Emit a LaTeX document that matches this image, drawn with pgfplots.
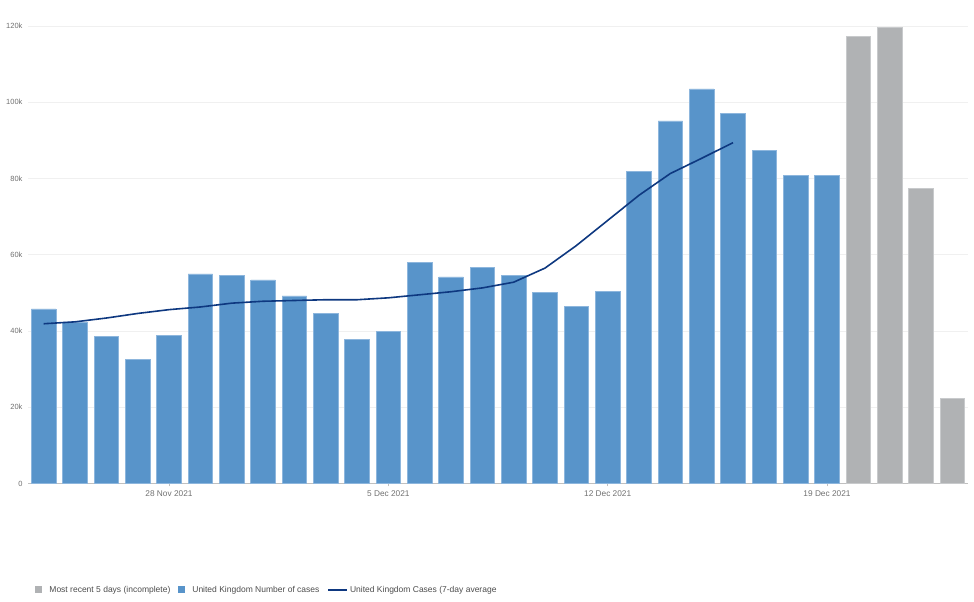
\documentclass[border=0pt]{standalone}
\usepackage{fontspec}
\setmainfont{Liberation Sans}
\usepackage{pgfplots}
\pgfplotsset{compat=1.18}
\definecolor{ukblue}{HTML}{5894CA}
\definecolor{ukblueedge}{HTML}{8DB6DD}
\definecolor{ukgrey}{HTML}{B0B2B4}
\definecolor{ukgreyedge}{HTML}{C8CACC}
\definecolor{uknavy}{HTML}{0E3880}
\definecolor{txtgrey}{HTML}{707070}
\definecolor{gridgrey}{HTML}{F0F0F0}
\definecolor{axgrey}{HTML}{C0C0C0}
\begin{document}
\begin{tikzpicture}
\path[use as bounding box] (0pt,0pt) rectangle (974pt,602pt);
\begin{axis}[
  at={(28pt,118.5pt)}, anchor=south west,
  scale only axis, width=940pt, height=457.5pt,
  xmin=-0.5, xmax=29.5, ymin=0, ymax=120000,
  axis x line=bottom, axis y line=left,
  x axis line style={-, draw=axgrey, line width=1pt},
  y axis line style={draw=none},
  xtick={4,11,18,25},
  xticklabels={28 Nov 2021, 5 Dec 2021, 12 Dec 2021, 19 Dec 2021},
  ytick={0,20000,40000,60000,80000,100000,120000},
  yticklabels={0,20k,40k,60k,80k,100k,120k},
  scaled y ticks=false,
  tick align=outside,
  major tick length=3pt,
  xtick style={draw=axgrey, line width=0.6pt},
  ytick style={draw=none},
  ymajorgrids, grid style={gridgrey, line width=0.8pt},
  x tick label style={font=\fontsize{8.3}{10}\selectfont, text=txtgrey, yshift=-1pt},
  y tick label style={font=\fontsize{7.5}{9}\selectfont, text=txtgrey, xshift=1pt},
  /pgf/number format/assume math mode=true,
  legend style={at={(0.0045,-0.2325)}, anchor=west, draw=none, fill=none,
    legend columns=3, font=\fontsize{8.5}{10}\selectfont, text=black!70,
    /tikz/every even column/.append style={column sep=6pt},
    legend cell align=left},
  bar width=24.5pt,
  clip=false,
]
\addplot[ybar, bar shift=0pt, fill=ukgrey, draw=ukgreyedge, line width=0.6pt,
  legend image code/.code={\fill[ukgrey, draw=none] (0pt,-3.3pt) rectangle (6.8pt,3.5pt); \path[draw=none, fill=none] (0pt,0pt) -- (12pt,0pt);}]
  coordinates {(26,117300) (27,119700) (28,77500) (29,22400)};
\addlegendentry{Most recent 5 days (incomplete)}
\addplot[ybar, bar shift=0pt, fill=ukblue, draw=ukblueedge, line width=0.6pt,
  legend image code/.code={\fill[ukblue, draw=none] (0pt,-3.3pt) rectangle (6.8pt,3.5pt); \path[draw=none, fill=none] (0pt,0pt) -- (12pt,0pt);}]
  coordinates {
  (0,45800) (1,42400) (2,38500) (3,32600) (4,38800) (5,55000) (6,54500)
  (7,53400) (8,49200) (9,44600) (10,37700) (11,39900) (12,57900) (13,54200)
  (14,56600) (15,54600) (16,50200) (17,46400) (18,50400) (19,81800) (20,95100)
  (21,103500) (22,97000) (23,87400) (24,80900) (25,80900)};
\addlegendentry{United Kingdom Number of cases}
\addplot[uknavy, line width=1.6pt, mark=none,
  legend image code/.code={\draw[uknavy, line width=1.6pt] (-9pt,0pt) -- (10pt,0pt);}]
  coordinates {
  (0,41900) (1,42400) (2,43400) (3,44600) (4,45600) (5,46300) (6,47300)
  (7,47800) (8,48000) (9,48200) (10,48200) (11,48700) (12,49500) (13,50300)
  (14,51300) (15,52800) (16,56500) (17,62400) (18,69000) (19,75600) (20,81300)
  (21,85300) (22,89400)};
\addlegendentry{United Kingdom Cases (7-day average}
\end{axis}
\end{tikzpicture}
\end{document}
